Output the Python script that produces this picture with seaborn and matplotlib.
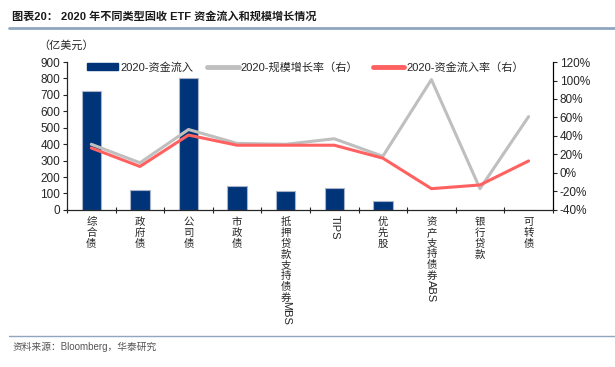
import matplotlib
matplotlib.use("Agg")
import numpy as np
import pandas as pd
import matplotlib.pyplot as plt
import seaborn as sns
from matplotlib.ticker import PercentFormatter, FixedLocator
from matplotlib.lines import Line2D

# data
categories = ['综合债', '政府债', '公司债', '市政债', '抵押贷款支持债券MBS', 'TIPS',
              '优先股', '资产支持债券ABS', '银行贷款', '可转债']
inflow = [725, 120, 805, 145, 115, 135, 55, -3, -5, 2]            # 亿美元
size_growth = [31, 11, 47, 32, 31, 37, 18, 101, -17, 61]          # %
inflow_rate = [27, 7, 41, 30, 30, 30, 16, -17, -13, 13]           # %

navy = '#003479'
grey = '#bfbfbf'
red = '#ff6161'

sns.set_style('white')
plt.rcParams['font.family'] = ['Liberation Sans', 'Noto Sans CJK SC', 'DejaVu Sans']
plt.rcParams['axes.unicode_minus'] = False

df = pd.DataFrame({'cat': categories, 'inflow': inflow,
                   'growth': size_growth, 'rate': inflow_rate})
df['pos'] = np.arange(len(df))

fig = plt.figure(figsize=(6.15, 3.67), dpi=100)
ax = fig.add_axes([0.109, 0.428, 0.79, 0.403])

sns.barplot(data=df, x='cat', y='inflow', color=navy, width=0.4, saturation=1,
            edgecolor='#a9b4c8', linewidth=0.8, ax=ax)
ax.set_ylim(0, 900)
ax.set_yticks(range(0, 901, 100))
ax.set_xlim(-0.5, len(df) - 0.5)
ax.set_xlabel('')
ax.set_ylabel('')
ax.tick_params(axis='y', labelsize=8.5, length=3, direction='out', left=True, pad=2)
ax.set_xticks(df['pos'])
ax.set_xticklabels([''] * len(df))
ax.tick_params(axis='x', which='major', length=0)
ax.xaxis.set_minor_locator(FixedLocator(np.arange(-0.5, len(df), 1)))
ax.tick_params(axis='x', which='minor', length=4, direction='inout', width=0.8, bottom=True)
ax.spines['top'].set_visible(False)
for s in ['left', 'bottom', 'right']:
    ax.spines[s].set_color('black')
    ax.spines[s].set_linewidth(0.8)

ax2 = ax.twinx()
sns.lineplot(data=df, x='pos', y='growth', color=grey, linewidth=2.2, ax=ax2, legend=False)
sns.lineplot(data=df, x='pos', y='rate', color=red, linewidth=2.2, ax=ax2, legend=False)
ax2.set_ylim(-40, 120)
ax2.set_yticks(range(-40, 121, 20))
ax2.yaxis.set_major_formatter(PercentFormatter(decimals=0))
ax2.tick_params(axis='y', labelsize=8.5, length=3, direction='out', right=True, pad=2)
ax2.set_xlabel('')
ax2.set_ylabel('')
ax2.spines['top'].set_visible(False)
ax2.spines['right'].set_color('black')
ax2.spines['right'].set_linewidth(0.8)
ax2.set_xlim(-0.5, len(df) - 0.5)

# vertical category labels: CJK stacked upright, latin part rotated
pitch = 7.7
for i, lab in enumerate(categories):
    cjk = ''.join(c for c in lab if ord(c) > 127)
    lat = ''.join(c for c in lab if ord(c) <= 127)
    if cjk:
        ax.annotate('\n'.join(cjk), xy=(i, 0), xycoords=('data', 'axes fraction'),
                    xytext=(0, -5), textcoords='offset points', ha='center', va='top',
                    fontsize=7.5, linespacing=1.1, family=['Noto Sans CJK SC'])
    if lat:
        ax.annotate(lat, xy=(i, 0), xycoords=('data', 'axes fraction'),
                    xytext=(0, -4 - pitch * len(cjk)), textcoords='offset points',
                    ha='center', va='top', rotation=-90, fontsize=8)

handles = [plt.Rectangle((0, 0), 1, 1, color=navy),
           Line2D([0], [0], color=grey, lw=3.5),
           Line2D([0], [0], color=red, lw=3.5)]
labels = ['2020-资金流入', '2020-规模增长率（右）', '2020-资金流入率（右）']
ax2.legend(handles, labels, ncol=3, loc='upper center', bbox_to_anchor=(0.49, 1.07),
           frameon=False, fontsize=8, handlelength=2.8, handleheight=0.55,
           columnspacing=1.3, handletextpad=0.2)

fig.text(0.063, 0.868, '（亿美元）', fontsize=8, family=['Noto Sans CJK SC'])

fig.text(0.02, 0.945, '图表20： 2020 年不同类型固收 ETF 资金流入和规模增长情况',
         fontsize=8, fontweight='bold', color='#1a1a1a')
fig.add_artist(Line2D([0.015, 1.0], [0.925, 0.925], color='#8fa6c1', lw=2))
fig.add_artist(Line2D([0.015, 1.0], [0.085, 0.085], color='#8fa6c1', lw=1))
fig.text(0.02, 0.045, '资料来源：Bloomberg，华泰研究', fontsize=7, color='#555555')

fig.savefig('out.png', dpi=100)
